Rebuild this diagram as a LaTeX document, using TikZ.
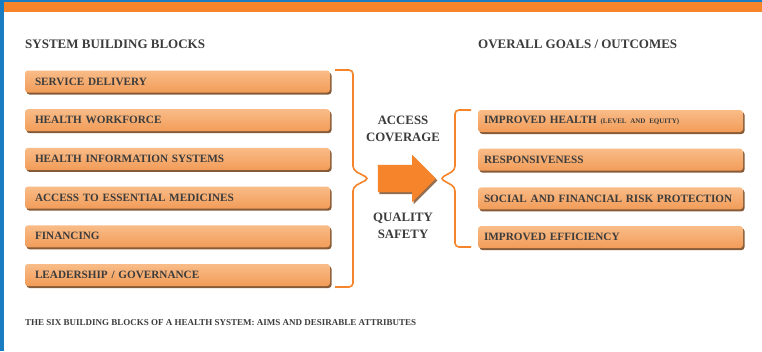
\documentclass[tikz,border=0pt]{standalone}
\usepackage{fontspec}
\setmainfont{Liberation Serif}
\usetikzlibrary{positioning,shapes.arrows,shadows}
\definecolor{hsblue}{HTML}{1B7DC1}
\definecolor{hsorange}{HTML}{F5842A}
\definecolor{boxtop}{HTML}{F9BC88}
\definecolor{boxbot}{HTML}{F29C58}
\definecolor{boxshade}{HTML}{7A4A22}
\definecolor{txtgray}{HTML}{3C3C3C}
\tikzset{%
	block/.style    = {rectangle, rounded corners=3pt, top color=boxtop, bottom color=boxbot, drop shadow={shadow xshift=1.5pt, shadow yshift=-2pt, fill=boxshade, opacity=0.9}, minimum height=22pt, inner xsep=10pt, inner ysep=0pt, align=left, font=\bfseries\fontsize{11.2}{12}\selectfont, text=txtgray},
	lblock/.style   = {block, text width=285pt},
	rblock/.style   = {block, text width=253pt, inner xsep=6pt},
	heading/.style  = {anchor=west, inner sep=0pt, font=\bfseries\fontsize{13}{14}\selectfont, text=txtgray},
	attrib/.style   = {align=center, inner sep=0pt, font=\bfseries\fontsize{12.8}{17}\selectfont, text=txtgray},
	brace/.style    = {draw=hsorange, line width=1.6pt, rounded corners=4pt},
	bigarrow/.style = {single arrow, fill=hsorange, inner xsep=0pt, inner ysep=13.5pt, minimum height=58pt, single arrow head extend=10pt, drop shadow={shadow xshift=1.5pt, shadow yshift=-2pt, fill=boxshade, opacity=0.8}},
}
\begin{document}
\begin{tikzpicture}[x=1pt,y=-1pt,node distance=38.7pt]
	\useasboundingbox (0,0) rectangle (762,351);
	\fill[white] (0,0) rectangle (762,351);
	% frame
	\fill[hsorange] (4,2) rectangle (762,12);
	\fill[hsblue] (0,0) rectangle (762,2);
	\fill[hsblue] (0,0) rectangle (4,351);
	
	% headings
	\node [heading] (sbb) at (25,44) {SYSTEM BUILDING BLOCKS};
	\node [heading] (ogo) at (478,44) {OVERALL GOALS / OUTCOMES};
	
	% building blocks
	\node [lblock] (sd) at (177.5,81.5) {SERVICE DELIVERY};
	\node [lblock] (hw) [below of=sd] {HEALTH WORKFORCE};
	\node [lblock] (his) [below of=hw] {HEALTH INFORMATION SYSTEMS};
	\node [lblock] (aem) [below of=his] {ACCESS TO ESSENTIAL MEDICINES};
	\node [lblock] (fin) [below of=aem] {FINANCING};
	\node [lblock] (lg) [below of=fin] {LEADERSHIP / GOVERNANCE};
	
	% goals
	\node [rblock] (ih) at (610.5,121) {IMPROVED HEALTH {\fontsize{7}{8}\selectfont(LEVEL AND EQUITY)}};
	\node [rblock] (resp) [below of=ih] {RESPONSIVENESS};
	\node [rblock] (sfrp) [below of=resp] {SOCIAL AND FINANCIAL RISK PROTECTION};
	\node [rblock] (ie) [below of=sfrp] {IMPROVED EFFICIENCY};
	
	% braces
	\draw[brace] (335,70) -- (353,70) -- (353,170) -- (369,178.5) -- (353,187) -- (353,287) -- (335,287);
	\draw[brace] (471,110) -- (455,110) -- (455,170) -- (440,178.5) -- (455,187) -- (455,247) -- (471,247);
	
	% middle
	\node [bigarrow] (go) at (400,178.5) {};
	\node [attrib] (ac) at (403,128.5) {ACCESS\\COVERAGE};
	\node [attrib] (qs) at (403,226) {QUALITY\\SAFETY};
	
	\node [heading,font=\bfseries\fontsize{9}{10}\selectfont] (cap) at (25,323) {THE SIX BUILDING BLOCKS OF A HEALTH SYSTEM: AIMS AND DESIRABLE ATTRIBUTES};
\end{tikzpicture}
\end{document}
